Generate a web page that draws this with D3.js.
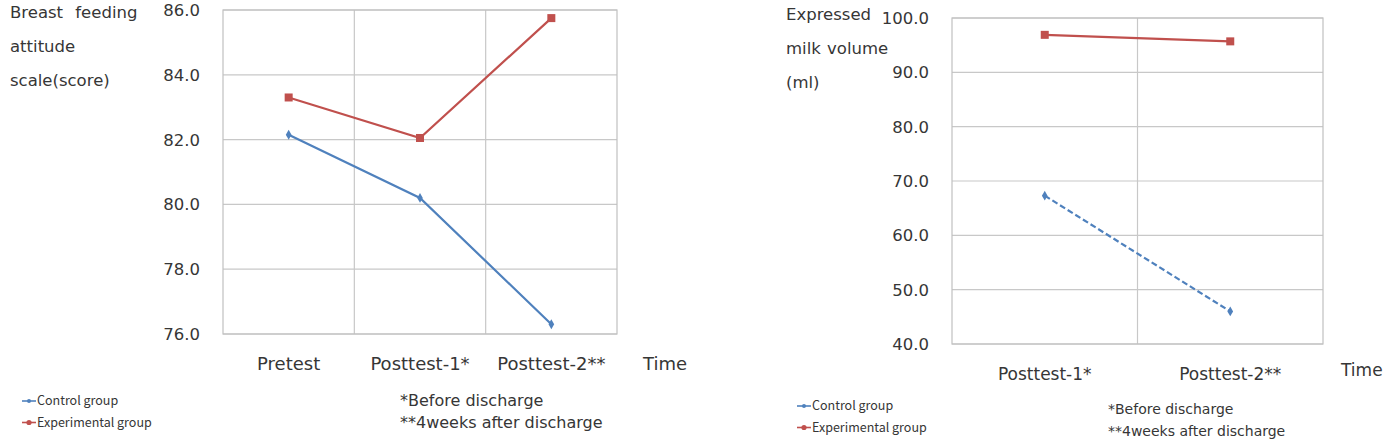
<!DOCTYPE html>
<html>
<head>
<meta charset="utf-8">
<script src="https://cdn.jsdelivr.net/npm/d3@7"></script>
<style>
  body { margin: 0; background: #fff; }
  text { font-family: "DejaVu Sans", sans-serif; fill: #363636; }
  text.legend { font-family: "Noto Sans CJK KR", "Noto Sans", sans-serif; }
</style>
</head>
<body>
<script>
// chart data
const attitudeTimes = ['Pretest', 'Posttest-1*', 'Posttest-2**'];
const attitudeControl = [82.15, 80.2, 76.3];
const attitudeExperimental = [83.3, 82.05, 85.75];
const attitudeTicks = [76, 78, 80, 82, 84, 86];

const milkTimes = ['Posttest-1*', 'Posttest-2**'];
const milkControl = [67.3, 46.0];
const milkExperimental = [96.9, 95.7];
const milkTicks = [40, 50, 60, 70, 80, 90, 100];

const seriesNames = ['Control group', 'Experimental group'];
const notes = ['*Before discharge', '**4weeks after discharge'];

const blue = '#4f81bd';
const red = '#c0504d';

const svg = d3.select('body').append('svg')
  .attr('width', 1385)
  .attr('height', 441);

function drawPanel(opt) {
  const g = svg.append('g');
  const x = d3.scaleBand().domain(opt.times).range([opt.left, opt.right]);
  const y = d3.scaleLinear().domain(opt.domain).range([opt.bottom, opt.top]);

  // horizontal gridlines
  g.selectAll('line.h')
    .data(opt.ticks)
    .enter().append('line')
    .attr('x1', opt.left).attr('x2', opt.right)
    .attr('y1', d => y(d)).attr('y2', d => y(d))
    .attr('stroke', '#c8c8c8').attr('stroke-width', 1.2);

  // vertical gridlines between categories
  g.selectAll('line.v')
    .data(opt.times.slice(1))
    .enter().append('line')
    .attr('x1', d => x(d)).attr('x2', d => x(d))
    .attr('y1', opt.top).attr('y2', opt.bottom)
    .attr('stroke', '#c8c8c8').attr('stroke-width', 1.2);

  g.append('rect')
    .attr('x', opt.left).attr('y', opt.top)
    .attr('width', opt.right - opt.left).attr('height', opt.bottom - opt.top)
    .attr('fill', 'none').attr('stroke', '#c0c0c0').attr('stroke-width', 1.2);

  // y tick labels
  g.selectAll('text.yt')
    .data(opt.ticks)
    .enter().append('text')
    .attr('x', opt.left - 23)
    .attr('y', d => y(d) + 6)
    .attr('text-anchor', 'end')
    .style('font-size', '16.5px')
    .text(d => d.toFixed(1));

  // x labels
  g.selectAll('text.xt')
    .data(opt.times)
    .enter().append('text')
    .attr('x', d => x(d) + x.bandwidth() / 2)
    .attr('y', opt.xLabelY)
    .attr('text-anchor', 'middle')
    .style('font-size', opt.xSize)
    .text(d => d);

  g.append('text')
    .attr('x', opt.timeX).attr('y', opt.timeY)
    .style('font-size', opt.xSize)
    .text('Time');

  // y title
  g.selectAll('text.yl')
    .data(opt.yTitle)
    .enter().append('text')
    .attr('x', opt.yTitleX)
    .attr('y', (d, i) => opt.yTitleY + i * 34)
    .style('font-size', '16.5px')
    .style('word-spacing', opt.wordSpacing)
    .text(d => d);

  const line = d3.line()
    .x((d, i) => x(opt.times[i]) + x.bandwidth() / 2)
    .y(d => y(d));

  // control series
  g.append('path')
    .datum(opt.control)
    .attr('d', line)
    .attr('fill', 'none')
    .attr('stroke', blue)
    .attr('stroke-width', 2.2)
    .attr('stroke-dasharray', opt.dashed ? '6,3' : null);

  g.selectAll('path.cm')
    .data(opt.control)
    .enter().append('path')
    .attr('d', d3.symbol(d3.symbolDiamond, 28))
    .attr('transform', (d, i) => `translate(${x(opt.times[i]) + x.bandwidth() / 2},${y(d)})`)
    .attr('fill', blue);

  // experimental series
  g.append('path')
    .datum(opt.experimental)
    .attr('d', line)
    .attr('fill', 'none')
    .attr('stroke', red)
    .attr('stroke-width', 2.2);

  g.selectAll('rect.em')
    .data(opt.experimental)
    .enter().append('rect')
    .attr('x', (d, i) => x(opt.times[i]) + x.bandwidth() / 2 - 4)
    .attr('y', d => y(d) - 4)
    .attr('width', 8).attr('height', 8)
    .attr('fill', red);

  // legend
  const lg = g.selectAll('g.lg')
    .data(seriesNames)
    .enter().append('g')
    .attr('transform', (d, i) => `translate(${opt.legendX},${opt.legendY + i * 21.5})`);
  lg.append('line')
    .attr('x1', 0).attr('x2', 14)
    .attr('stroke', (d, i) => i ? red : blue)
    .attr('stroke-width', 1.6);
  lg.append('circle')
    .attr('cx', 7).attr('r', (d, i) => i ? 2.6 : 2)
    .attr('fill', (d, i) => i ? red : blue);
  lg.append('text')
    .attr('class', 'legend')
    .attr('x', 15).attr('y', 4)
    .style('font-size', '12.5px')
    .text(d => d);

  // footnotes
  g.selectAll('text.note')
    .data(notes)
    .enter().append('text')
    .attr('x', opt.noteX)
    .attr('y', (d, i) => opt.noteY + i * 21.5)
    .style('font-size', opt.noteSize)
    .text(d => d);
}

drawPanel({
  times: attitudeTimes, control: attitudeControl, experimental: attitudeExperimental,
  ticks: attitudeTicks, domain: [76, 86],
  left: 223, right: 617, top: 10, bottom: 334,
  xLabelY: 370, timeX: 643, timeY: 370, xSize: '18px',
  yTitle: ['Breast feeding', 'attitude', 'scale(score)'], yTitleX: 10, yTitleY: 18, wordSpacing: '7px',
  dashed: false,
  legendX: 22, legendY: 401, noteX: 400, noteY: 406, noteSize: '16px'
});

drawPanel({
  times: milkTimes, control: milkControl, experimental: milkExperimental,
  ticks: milkTicks, domain: [40, 100],
  left: 952, right: 1323, top: 18, bottom: 344,
  xLabelY: 380, timeX: 1341, timeY: 376, xSize: '17px',
  yTitle: ['Expressed', 'milk volume', '(ml)'], yTitleX: 786, yTitleY: 20, wordSpacing: '1px',
  dashed: true,
  legendX: 797, legendY: 406, noteX: 1108, noteY: 414, noteSize: '14px'
});
</script>
</body>
</html>
